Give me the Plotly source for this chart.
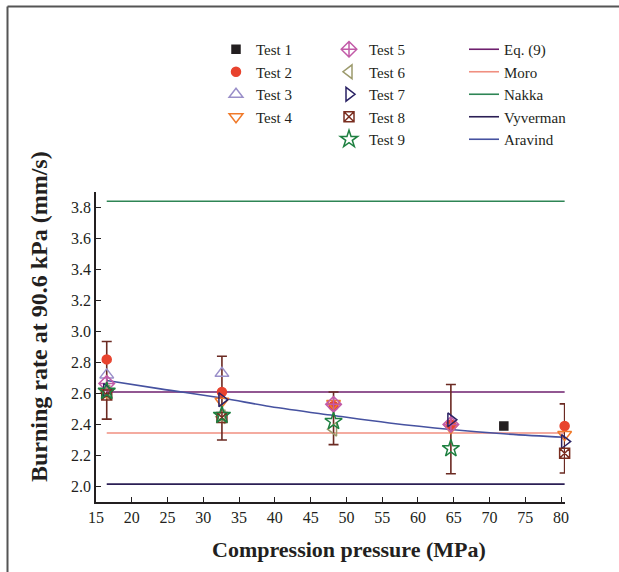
import plotly.graph_objects as go

# ---------------- data ----------------
test1_x = [72.0]
test1_y = [2.39]
test2_x = [16.5, 32.6, 48.2, 64.6, 80.5]
test2_y = [2.82, 2.61, 2.52, 2.40, 2.39]
test3_x = [16.5, 32.6]
test3_y = [2.72, 2.73]
test4_x = [16.5, 32.6, 48.2, 64.6, 80.5]
test4_y = [2.61, 2.55, 2.535, 2.38, 2.335]
test5_x = [16.5, 48.2, 64.6]
test5_y = [2.665, 2.53, 2.40]
test6_x = [16.5, 32.6, 48.2]
test6_y = [2.61, 2.45, 2.37]
test7_x = [16.5, 32.6, 64.6, 80.5]
test7_y = [2.62, 2.56, 2.43, 2.29]
test8_x = [16.5, 32.6, 80.5]
test8_y = [2.59, 2.445, 2.215]
test9_x = [16.5, 32.6, 48.2, 64.6]
test9_y = [2.615, 2.46, 2.42, 2.245]

# mean values with error bars
err_x = [16.5, 32.6, 48.2, 64.6, 80.5]
err_mean = [2.685, 2.57, 2.44, 2.37, 2.31]
err_half = [0.25, 0.27, 0.17, 0.288, 0.223]

# model lines
line_x = [16.5, 80.5]
eq9_y = [2.61, 2.61]
moro_y = [2.345, 2.345]
nakka_y = [3.84, 3.84]
vyverman_y = [2.015, 2.015]
aravind_x = [16.5, 24.0, 32.6, 39.3, 48.2, 56.0, 64.6, 72.0, 80.5]
aravind_y = [2.684, 2.63, 2.571, 2.516, 2.458, 2.41, 2.368, 2.34, 2.318]

x_ticks = [15, 20, 25, 30, 35, 40, 45, 50, 55, 60, 65, 70, 75, 80]
y_ticks = [2.0, 2.2, 2.4, 2.6, 2.8, 3.0, 3.2, 3.4, 3.6, 3.8]

# ---------------- figure ----------------
FONT = "Liberation Serif"
TXT = "#231f20"
W, H = 619, 572
L, R, T, B = 96, 565, 192, 502   # plot area in pixels
PW, PH = R - L, B - T


def px(x):
    return (x - L) / PW


def py(y):
    return (B - y) / PH


fig = go.Figure()

lines = [
    ("Eq. (9)", line_x, eq9_y, "#6e1f6e"),
    ("Moro", line_x, moro_y, "#f08f80"),
    ("Nakka", line_x, nakka_y, "#2e8555"),
    ("Vyverman", line_x, vyverman_y, "#2b1f55"),
    ("Aravind", aravind_x, aravind_y, "#4652a0"),
]
for name, xs, ys, col in lines:
    fig.add_trace(go.Scatter(
        x=xs, y=ys, mode="lines", name=name,
        line=dict(color=col, width=1.6, shape="spline" if name == "Aravind" else "linear"),
        legend="legend3"))

fig.add_trace(go.Scatter(
    x=err_x, y=err_mean, mode="markers", showlegend=False,
    marker=dict(size=1, opacity=0),
    error_y=dict(type="data", array=err_half, visible=True,
                 color="#6b2a22", thickness=1.6, width=5),
    cliponaxis=False))

tests = [
    ("Test 1", test1_x, test1_y, "square", "#231f20", 8, "legend"),
    ("Test 2", test2_x, test2_y, "circle", "#e8432e", 9, "legend"),
    ("Test 3", test3_x, test3_y, "triangle-up-open", "#9a8fc9", 12, "legend"),
    ("Test 4", test4_x, test4_y, "triangle-down-open", "#f07a2a", 12, "legend"),
    ("Test 5", test5_x, test5_y, "diamond-cross-open", "#c25ba8", 12, "legend2"),
    ("Test 6", test6_x, test6_y, "triangle-left-open", "#9c9a6c", 12, "legend2"),
    ("Test 7", test7_x, test7_y, "triangle-right-open", "#2a2264", 12, "legend2"),
    ("Test 8", test8_x, test8_y, "square-x-open", "#7a2e20", 10, "legend2"),
    ("Test 9", test9_x, test9_y, "star-open", "#1e8040", 13, "legend2"),
]
for name, xs, ys, sym, col, sz, lg in tests:
    fig.add_trace(go.Scatter(
        x=xs, y=ys, mode="markers", name=name,
        marker=dict(symbol=sym, color=col, size=sz, line=dict(color=col, width=1.5)),
        cliponaxis=False, legend=lg))

legend_common = dict(
    font=dict(family=FONT, size=15, color=TXT),
    bgcolor="rgba(0,0,0,0)", borderwidth=0,
    yanchor="top", y=py(33), tracegroupgap=0,
)

axis_common = dict(showgrid=False, zeroline=False, showline=True, linecolor=TXT, linewidth=1.5,
                   ticks="inside", ticklen=5, tickcolor=TXT,
                   tickfont=dict(family=FONT, size=16, color=TXT))

fig.update_layout(
    width=W, height=H,
    margin=dict(l=L, r=W - R, t=T, b=H - B),
    paper_bgcolor="white", plot_bgcolor="white",
    font=dict(family=FONT, size=16, color=TXT),
    legend=dict(x=px(216), xanchor="left", **legend_common),
    legend2=dict(x=px(329), xanchor="left", **legend_common),
    legend3=dict(x=px(464), xanchor="left", **legend_common),
    xaxis=dict(range=[15, 80.55], tickvals=x_ticks, ticktext=[str(v) for v in x_ticks], **axis_common),
    yaxis=dict(range=[1.9, 3.9], tickvals=y_ticks, ticktext=[f"{v:.1f}" for v in y_ticks], **axis_common),
    annotations=[
        dict(text="<b>Compression pressure (MPa)</b>", xref="paper", yref="paper",
             x=px(349), y=py(549), showarrow=False,
             font=dict(family=FONT, size=22, color=TXT), xanchor="center", yanchor="middle"),
        dict(text="<b>Burning rate at 90.6 kPa (mm/s)</b>", xref="paper", yref="paper",
             x=px(39), y=py(317), showarrow=False, textangle=-90,
             font=dict(family=FONT, size=24, color=TXT), xanchor="center", yanchor="middle"),
    ],
    shapes=[
        dict(type="line", xref="paper", yref="paper", x0=px(7.5), x1=px(640),
             y0=py(6.5), y1=py(6.5), line=dict(color="#555555", width=2)),
        dict(type="line", xref="paper", yref="paper", x0=px(7.5), x1=px(7.5),
             y0=py(6.5), y1=py(600), line=dict(color="#555555", width=2)),
    ],
)

fig.write_html("out.html", config={"displayModeBar": False},
               post_script="document.body.style.margin='0';document.body.style.overflow='hidden';")
